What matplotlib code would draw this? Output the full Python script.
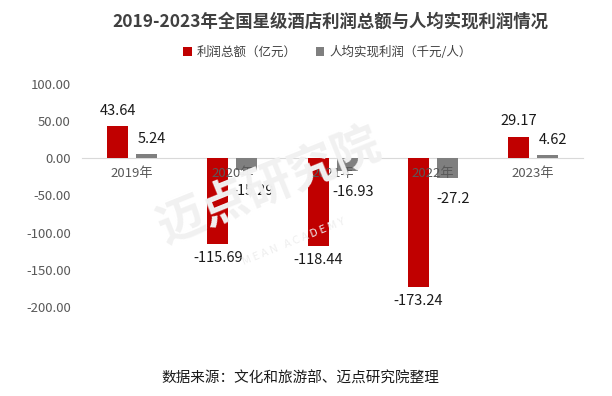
import numpy as np
import matplotlib.pyplot as plt

plt.rcParams['font.family'] = ['Noto Sans CJK SC', 'DejaVu Sans']

# data
years = ['2019年', '2020年', '2021年', '2022年', '2023年']
profit_total = [43.64, -115.69, -118.44, -173.24, 29.17]      # 亿元
profit_per_head = [5.24, -15.29, -16.93, -27.2, 4.62]         # 千元/人
profit_total_lbl = ['43.64', '-115.69', '-118.44', '-173.24', '29.17']
profit_per_head_lbl = ['5.24', '-15.29', '-16.93', '-27.2', '4.62']

red = '#C00000'
grey = '#7F7F7F'

fig = plt.figure(figsize=(6.12, 3.96), dpi=100)
ax = fig.add_axes([0.134, 0.225, 0.819, 0.563])

x = np.arange(len(years))
w = 0.21
off = 0.145
b1 = ax.bar(x - off, profit_total, w, color=red, label='利润总额（亿元）', zorder=3)
b2 = ax.bar(x + off, profit_per_head, w, color=grey, label='人均实现利润（千元/人）', zorder=3)

# value labels
for xi, v, s in zip(x, profit_total, profit_total_lbl):
    if v >= 0:
        ax.annotate(s, (xi - off, v), xytext=(0, 6), textcoords='offset points',
                    ha='center', va='bottom', fontsize=10.5, color='#1a1a1a', zorder=6)
    else:
        ax.annotate(s, (xi - off, v), xytext=(0, -5), textcoords='offset points',
                    ha='center', va='top', fontsize=10.5, color='#1a1a1a', zorder=6)
for xi, v, s in zip(x, profit_per_head, profit_per_head_lbl):
    if v >= 0:
        ax.annotate(s, (xi + off + 0.05, v), xytext=(0, 6), textcoords='offset points',
                    ha='center', va='bottom', fontsize=10.5, color='#1a1a1a', zorder=6)
    else:
        ax.annotate(s, (xi + off + 0.06, v), xytext=(0, -10), textcoords='offset points',
                    ha='center', va='top', fontsize=10.5, color='#1a1a1a', zorder=6)

# category labels drawn on top of the bars, like the reference
for xi, s in zip(x, years):
    ax.annotate(s, (xi, 0), xytext=(0, -6), textcoords='offset points',
                ha='center', va='top', fontsize=9.5, color='#595959', zorder=5)

ax.set_xlim(-0.5, len(years) - 0.5)
ax.set_ylim(-200, 100)
ax.set_yticks(np.arange(-200, 101, 50))
ax.set_yticklabels(['%.2f' % t for t in np.arange(-200, 101, 50)])
ax.set_xticks([])

for s in ['top', 'right', 'left']:
    ax.spines[s].set_visible(False)
ax.spines['bottom'].set_position(('data', 0))
ax.spines['bottom'].set_color('#d9d9d9')
ax.spines['bottom'].set_zorder(2)
ax.tick_params(axis='both', length=0, labelsize=9.5, colors='#595959')
ax.tick_params(axis='y', pad=8)
ax.set_facecolor('none')

# faint watermark
fig.text(0.44, 0.53, '迈点研究院', fontsize=34, color='#f1f1f1', rotation=22,
         ha='center', va='center', fontweight='bold', zorder=0)
fig.text(0.48, 0.39, 'M E A N   A C A D E M Y', fontsize=8, color='#eeeeee', rotation=22,
         ha='center', va='center', zorder=0)

fig.text(0.54, 0.945, '2019-2023年全国星级酒店利润总额与人均实现利润情况', ha='center', va='center',
         fontsize=12.5, fontweight='bold', color='#404040')
fig.legend(handles=[b1, b2], loc='center', bbox_to_anchor=(0.535, 0.868), ncol=2, frameon=False,
           fontsize=9, handlelength=0.7, handleheight=0.7, handletextpad=0.4, columnspacing=1.5,
           labelcolor='#404040')
fig.text(0.49, 0.045, '数据来源：文化和旅游部、迈点研究院整理', ha='center', va='center',
         fontsize=10.5, color='#1a1a1a')

plt.savefig('out.png', dpi=100)
